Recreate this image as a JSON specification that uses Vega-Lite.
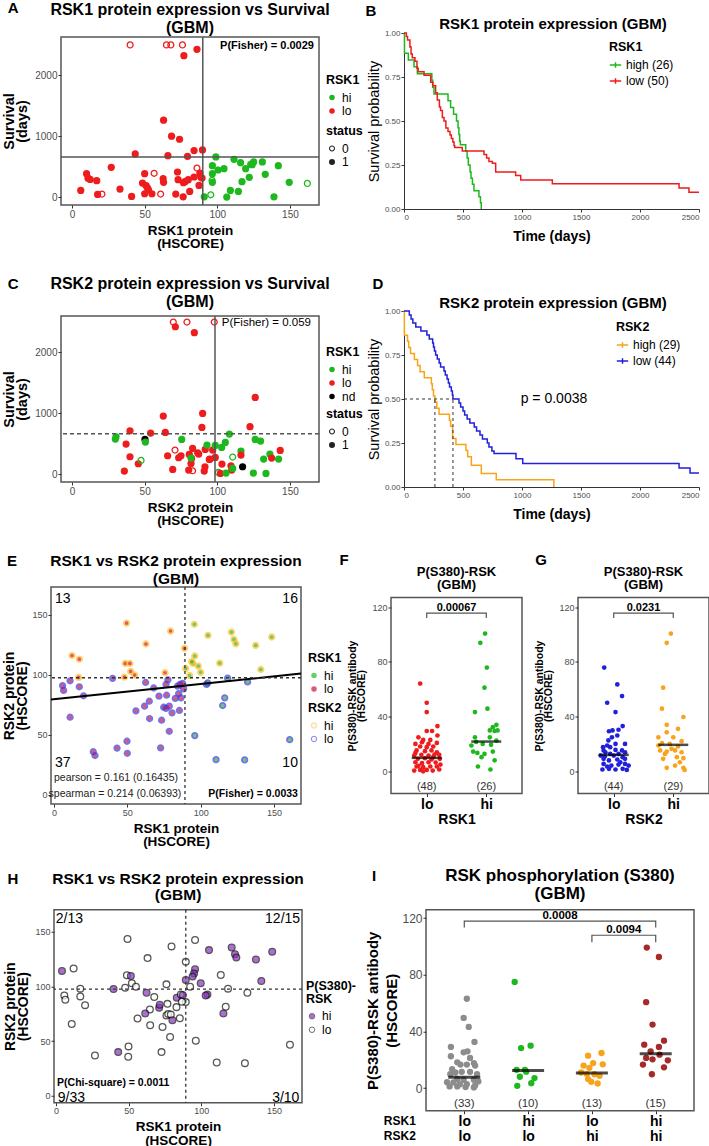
{
"$schema": "https://vega.github.io/schema/vega-lite/v6.json",
"padding": {"left": 0, "top": 0, "right": 0, "bottom": 0},
"background": "white",
"config": {
 "font": "Liberation Sans",
 "view": {"stroke": null},
 "axis": {"grid": false, "domain": false, "ticks": true, "tickSize": 3, "tickColor": "#333", "labelColor": "#4d4d4d", "labelFontSize": 10, "labelPadding": 1, "titleFontWeight": "bold", "titleColor": "#000", "titlePadding": 4, "titleFontSize": 13.5, "titleLineHeight": 13.5},
 "legend": {"titleFontSize": 12.5, "labelFontSize": 12, "titleColor": "#000", "labelColor": "#000", "titleFontWeight": "bold", "orient": "none", "rowPadding": 1.5}
},
"resolve": {"scale": {"x": "independent", "y": "independent", "color": "independent", "fill": "independent", "stroke": "independent", "shape": "independent"}, "legend": {"color": "independent", "fill": "independent", "stroke": "independent", "shape": "independent"}, "axis": {"x": "independent", "y": "independent"}},
"bounds": "full",
"spacing": 16.75,
"vconcat": [
{
"resolve": {"scale": {"x": "independent", "y": "independent", "color": "independent", "fill": "independent", "stroke": "independent", "shape": "independent"}, "legend": {"color": "independent", "fill": "independent", "stroke": "independent", "shape": "independent"}, "axis": {"x": "independent", "y": "independent"}},
"bounds": "full",
"spacing": 24,
"vconcat": [
{
"resolve": {"scale": {"x": "independent", "y": "independent", "color": "independent", "fill": "independent", "stroke": "independent", "shape": "independent"}, "legend": {"color": "independent", "fill": "independent", "stroke": "independent", "shape": "independent"}, "axis": {"x": "independent", "y": "independent"}},
"bounds": "flush", "spacing": 0, "center": true,
"hconcat": [
{"width": 60, "height": 1, "data": {"values": []}, "mark": "point"},
{
 "width": 258, "height": 168,
 "view": {"stroke": "#555", "strokeWidth": 1.5},
 "layer": [
  {"data": {"values": [
   {"x":40,"y":2500,"g":"lo","s":"0"},{"x":65,"y":2500,"g":"lo","s":"0"},{"x":68,"y":2500,"g":"lo","s":"0"},{"x":76,"y":2500,"g":"lo","s":"0"},
   {"x":86,"y":2428,"g":"lo","s":"1"},{"x":77,"y":2324,"g":"lo","s":"1"},{"x":63,"y":1264,"g":"lo","s":"1"},{"x":68.5,"y":1000,"g":"lo","s":"1"},{"x":74,"y":950,"g":"lo","s":"1"},{"x":84,"y":764,"g":"lo","s":"1"},{"x":89.8,"y":775,"g":"lo","s":"1"},{"x":43.5,"y":709,"g":"lo","s":"1"},{"x":66,"y":681,"g":"lo","s":"1"},{"x":79.5,"y":670,"g":"lo","s":"1"},
   {"x":27,"y":489,"g":"lo","s":"1"},{"x":10,"y":385,"g":"lo","s":"1"},{"x":11,"y":310,"g":"lo","s":"1"},{"x":12.5,"y":290,"g":"lo","s":"1"},{"x":17,"y":269,"g":"lo","s":"1"},{"x":6,"y":110,"g":"lo","s":"1"},{"x":17.6,"y":44,"g":"lo","s":"1"},{"x":20.6,"y":49,"g":"lo","s":"0"},{"x":33,"y":132,"g":"lo","s":"1"},{"x":41,"y":11,"g":"lo","s":"1"},
   {"x":50,"y":385,"g":"lo","s":"1"},{"x":48.5,"y":230,"g":"lo","s":"1"},{"x":51,"y":187,"g":"lo","s":"1"},{"x":52,"y":148,"g":"lo","s":"1"},{"x":52.6,"y":120,"g":"lo","s":"1"},{"x":50,"y":55,"g":"lo","s":"1"},{"x":55,"y":55,"g":"lo","s":"1"},{"x":56.5,"y":390,"g":"lo","s":"0"},{"x":62.7,"y":302,"g":"lo","s":"1"},{"x":63,"y":242,"g":"lo","s":"1"},{"x":61,"y":49,"g":"lo","s":"0"},
   {"x":72.6,"y":412,"g":"lo","s":"1"},{"x":73,"y":286,"g":"lo","s":"1"},{"x":71.4,"y":49,"g":"lo","s":"1"},{"x":76.7,"y":236,"g":"lo","s":"1"},{"x":78,"y":258,"g":"lo","s":"1"},{"x":80,"y":286,"g":"lo","s":"1"},{"x":81,"y":93,"g":"lo","s":"1"},{"x":76.5,"y":5,"g":"lo","s":"1"},{"x":84,"y":330,"g":"lo","s":"1"},{"x":86,"y":478,"g":"lo","s":"0"},{"x":88,"y":396,"g":"lo","s":"1"},{"x":88.6,"y":330,"g":"lo","s":"1"},{"x":87.4,"y":192,"g":"lo","s":"1"},{"x":89.5,"y":313,"g":"lo","s":"1"},
   {"x":99,"y":659,"g":"hi","s":"1"},{"x":111.5,"y":621,"g":"hi","s":"1"},{"x":116,"y":566,"g":"hi","s":"1"},{"x":125,"y":577,"g":"hi","s":"1"},{"x":131,"y":577,"g":"hi","s":"1"},{"x":123,"y":538,"g":"hi","s":"1"},{"x":124,"y":533,"g":"hi","s":"1"},{"x":96.6,"y":516,"g":"hi","s":"1"},{"x":100.5,"y":445,"g":"hi","s":"1"},{"x":104.6,"y":467,"g":"hi","s":"1"},{"x":119.5,"y":467,"g":"hi","s":"1"},{"x":96.6,"y":385,"g":"hi","s":"1"},{"x":96.4,"y":275,"g":"hi","s":"0"},{"x":96.6,"y":242,"g":"hi","s":"1"},{"x":122,"y":324,"g":"hi","s":"1"},{"x":133,"y":374,"g":"hi","s":"1"},{"x":142,"y":516,"g":"hi","s":"1"},{"x":117,"y":253,"g":"hi","s":"1"},{"x":91,"y":5,"g":"hi","s":"1"},{"x":95.5,"y":38,"g":"hi","s":"0"},{"x":109,"y":110,"g":"hi","s":"1"},{"x":114.5,"y":93,"g":"hi","s":"1"},{"x":106.5,"y":0,"g":"hi","s":"1"},{"x":139,"y":5,"g":"hi","s":"1"},{"x":149.5,"y":242,"g":"hi","s":"1"},{"x":162,"y":225,"g":"hi","s":"0"}
  ]},
   "mark": {"type": "point", "filled": true, "size": 52, "opacity": 1},
   "encoding": {
    "x": {"field": "x", "type": "quantitative", "scale": {"domain": [-7.6, 170], "nice": false, "zero": false}, "axis": {"values": [0, 50, 100, 150], "title": ["RSK1 protein", "(HSCORE)"]}},
    "y": {"field": "y", "type": "quantitative", "scale": {"domain": [-130, 2630], "nice": false, "zero": false}, "axis": {"values": [0, 500, 1000, 1500, 2000, 2500], "format": "d", "title": ["Survival", "(days)"], "titleFontSize": 14.5, "titleLineHeight": 13.5, "titlePadding": 5}},
    "fill": {"field": "g", "type": "nominal", "scale": {"domain": ["hi", "lo"], "range": ["#1DB81D", "#EE1C1C"]}, "legend": {"title": "RSK1", "legendX": 265, "legendY": 37, "symbolSize": 30, "symbolStrokeWidth": 0}},
    "shape": {"field": "s", "type": "nominal", "scale": {"domain": ["0", "1"], "range": ["M-1,0A1,1,0,1,0,1,0A1,1,0,1,0,-1,0ZM-0.64,0A0.64,0.64,0,1,1,0.64,0A0.64,0.64,0,1,1,-0.64,0Z", "circle"]}, "legend": {"title": "status", "legendX": 265, "legendY": 88, "symbolSize": 36, "symbolFillColor": "#222", "symbolStrokeWidth": 0}}
   }},
  {"data": {"values": [{}]}, "mark": {"type": "rule", "color": "#555", "strokeWidth": 1.5}, "encoding": {"x": {"datum": 90, "type": "quantitative"}}},
  {"data": {"values": [{}]}, "mark": {"type": "rule", "color": "#555", "strokeWidth": 1.5}, "encoding": {"y": {"datum": 659, "type": "quantitative"}}},
  {"data": {"values": [{}]}, "mark": {"type": "text", "text": "P(Fisher) =  0.0029", "fontWeight": "bold", "fontSize": 11, "align": "right", "baseline": "middle"}, "encoding": {"x": {"datum": 166.5, "type": "quantitative"}, "y": {"datum": 2487, "type": "quantitative"}}},
  {"data": {"values": [{"y":3074,"t":"RSK1 protein expression vs Survival"},{"y":2778,"t":"(GBM)"}]}, "mark": {"type": "text", "fontWeight": "bold", "fontSize": 16, "align": "center", "baseline": "middle"}, "encoding": {"x": {"datum": 81.2, "type": "quantitative"}, "y": {"field": "y", "type": "quantitative"}, "text": {"field": "t"}}},
  {"data": {"values": [{}]}, "mark": {"type": "text", "text": "A", "fontWeight": "bold", "fontSize": 15, "align": "center", "baseline": "middle"}, "encoding": {"x": {"datum": -40.6, "type": "quantitative"}, "y": {"datum": 3107, "type": "quantitative"}}}
 ]
},
{"width": 85, "height": 1, "data": {"values": []}, "mark": "point"},
{
 "width": 295, "height": 176,
 "layer": [
  {"data": {"values": [
   {"t":0,"v":1,"g":"high (26)"},{"t":4,"v":0.885,"g":"high (26)"},{"t":37,"v":0.846,"g":"high (26)"},{"t":85,"v":0.808,"g":"high (26)"},{"t":113,"v":0.769,"g":"high (26)"},{"t":236,"v":0.731,"g":"high (26)"},{"t":243,"v":0.692,"g":"high (26)"},{"t":254,"v":0.654,"g":"high (26)"},{"t":373,"v":0.615,"g":"high (26)"},{"t":395,"v":0.577,"g":"high (26)"},{"t":420,"v":0.538,"g":"high (26)"},{"t":445,"v":0.5,"g":"high (26)"},{"t":458,"v":0.462,"g":"high (26)"},{"t":465,"v":0.423,"g":"high (26)"},{"t":472,"v":0.385,"g":"high (26)"},{"t":478,"v":0.365,"g":"high (26)"},{"t":523,"v":0.33,"g":"high (26)"},{"t":535,"v":0.29,"g":"high (26)"},{"t":545,"v":0.25,"g":"high (26)"},{"t":560,"v":0.21,"g":"high (26)"},{"t":568,"v":0.175,"g":"high (26)"},{"t":580,"v":0.14,"g":"high (26)"},{"t":593,"v":0.104,"g":"high (26)"},{"t":635,"v":0.07,"g":"high (26)"},{"t":648,"v":0.035,"g":"high (26)"},{"t":655,"v":0,"g":"high (26)"},
   {"t":0,"v":1,"g":"low (50)"},{"t":20,"v":0.98,"g":"low (50)"},{"t":30,"v":0.96,"g":"low (50)"},{"t":50,"v":0.92,"g":"low (50)"},{"t":60,"v":0.88,"g":"low (50)"},{"t":70,"v":0.86,"g":"low (50)"},{"t":93,"v":0.84,"g":"low (50)"},{"t":110,"v":0.8,"g":"low (50)"},{"t":120,"v":0.78,"g":"low (50)"},{"t":170,"v":0.76,"g":"low (50)"},{"t":226,"v":0.72,"g":"low (50)"},{"t":245,"v":0.7,"g":"low (50)"},{"t":268,"v":0.66,"g":"low (50)"},{"t":282,"v":0.62,"g":"low (50)"},{"t":300,"v":0.58,"g":"low (50)"},{"t":310,"v":0.56,"g":"low (50)"},{"t":325,"v":0.52,"g":"low (50)"},{"t":339,"v":0.5,"g":"low (50)"},{"t":355,"v":0.46,"g":"low (50)"},{"t":373,"v":0.44,"g":"low (50)"},{"t":390,"v":0.42,"g":"low (50)"},{"t":401,"v":0.4,"g":"low (50)"},{"t":414,"v":0.38,"g":"low (50)"},{"t":424,"v":0.36,"g":"low (50)"},{"t":430,"v":0.35,"g":"low (50)"},{"t":494,"v":0.33,"g":"low (50)"},{"t":678,"v":0.31,"g":"low (50)"},{"t":700,"v":0.29,"g":"low (50)"},{"t":720,"v":0.27,"g":"low (50)"},{"t":749,"v":0.26,"g":"low (50)"},{"t":777,"v":0.21,"g":"low (50)"},{"t":946,"v":0.19,"g":"low (50)"},{"t":989,"v":0.165,"g":"low (50)"},{"t":1257,"v":0.143,"g":"low (50)"},{"t":2331,"v":0.12,"g":"low (50)"},{"t":2415,"v":0.095,"g":"low (50)"},{"t":2500,"v":0.095,"g":"low (50)"}
  ]},
   "mark": {"type": "line", "interpolate": "step-after", "strokeWidth": 1.5},
   "encoding": {
    "x": {"field": "t", "type": "quantitative", "scale": {"domain": [0, 2500], "nice": false}, "axis": {"values": [0,250,500,750,1000,1250,1500,1750,2000,2250,2500], "format": "d", "labelFontSize": 8, "domain": true, "domainColor": "#333", "title": "Time (days)", "titleFontSize": 14, "titlePadding": 8}},
    "y": {"field": "v", "type": "quantitative", "scale": {"domain": [0, 1], "nice": false}, "axis": {"values": [0, 0.25, 0.5, 0.75, 1], "format": ".2f", "labelFontSize": 8, "domain": true, "domainColor": "#333", "title": "Survival probability", "titleFontWeight": "normal", "titleFontSize": 14.5, "titlePadding": 3}},
    "color": {"field": "g", "type": "nominal", "scale": {"domain": ["high (26)", "low (50)"], "range": ["#1DB81D", "#EE1C1C"]}, "legend": {"title": "RSK1", "legendX": 205, "legendY": 8, "symbolType": "M-1,0H1M0,-0.5V0.5", "symbolSize": 130, "symbolStrokeWidth": 1.5, "labelFontSize": 12, "rowPadding": 3}}
   }},
  {"data": {"values": [{}]}, "mark": {"type": "text", "text": "RSK1 protein expression (GBM)", "fontWeight": "bold", "fontSize": 15, "align": "center", "baseline": "middle"}, "encoding": {"x": {"datum": 1263, "type": "quantitative"}, "y": {"datum": 1.051, "type": "quantitative"}}},
  {"data": {"values": [{}]}, "mark": {"type": "text", "text": "B", "fontWeight": "bold", "fontSize": 15, "align": "center", "baseline": "middle"}, "encoding": {"x": {"datum": -280, "type": "quantitative"}, "y": {"datum": 1.125, "type": "quantitative"}}}
 ]
}
]
},
{
"resolve": {"scale": {"x": "independent", "y": "independent", "color": "independent", "fill": "independent", "stroke": "independent", "shape": "independent"}, "legend": {"color": "independent", "fill": "independent", "stroke": "independent", "shape": "independent"}, "axis": {"x": "independent", "y": "independent"}},
"bounds": "flush", "spacing": 0, "center": true,
"hconcat": [
{"width": 60, "height": 1, "data": {"values": []}, "mark": "point"},
{
 "width": 258, "height": 166,
 "view": {"stroke": "#555", "strokeWidth": 1.5},
 "layer": [
  {"data": {"values": [
   {"x":69.7,"y":2500,"g":"lo","s":"0"},{"x":79.1,"y":2500,"g":"lo","s":"0"},{"x":97.9,"y":2500,"g":"lo","s":"0"},
   {"x":71.1,"y":2423,"g":"lo","s":"1"},{"x":84.2,"y":2325,"g":"lo","s":"1"},{"x":126.1,"y":1261,"g":"lo","s":"1"},{"x":62.8,"y":954,"g":"lo","s":"1"},{"x":89.9,"y":998,"g":"lo","s":"1"},{"x":89.4,"y":768,"g":"lo","s":"1"},{"x":122.5,"y":779,"g":"lo","s":"1"},{"x":39.9,"y":713,"g":"lo","s":"1"},{"x":54.1,"y":674,"g":"lo","s":"1"},{"x":64.2,"y":685,"g":"lo","s":"1"},
   {"x":30.3,"y":614,"g":"hi","s":"1"},{"x":29.8,"y":576,"g":"hi","s":"1"},{"x":50.2,"y":570,"g":"nd","s":"1"},{"x":50.5,"y":526,"g":"hi","s":"1"},{"x":75.5,"y":570,"g":"hi","s":"1"},{"x":108.3,"y":658,"g":"hi","s":"1"},{"x":126.1,"y":570,"g":"hi","s":"1"},{"x":129.8,"y":543,"g":"hi","s":"1"},
   {"x":37.2,"y":493,"g":"lo","s":"1"},{"x":83,"y":422,"g":"lo","s":"1"},{"x":86.5,"y":351,"g":"lo","s":"1"},{"x":87.2,"y":329,"g":"lo","s":"1"},{"x":70.9,"y":395,"g":"lo","s":"0"},{"x":65.8,"y":302,"g":"lo","s":"1"},{"x":73.4,"y":269,"g":"lo","s":"1"},{"x":75,"y":302,"g":"lo","s":"1"},{"x":80.7,"y":323,"g":"lo","s":"1"},{"x":82.3,"y":258,"g":"lo","s":"1"},{"x":91.7,"y":406,"g":"lo","s":"1"},
   {"x":92.9,"y":477,"g":"hi","s":"1"},{"x":96.8,"y":395,"g":"lo","s":"1"},{"x":95,"y":247,"g":"lo","s":"1"},{"x":98.6,"y":274,"g":"lo","s":"1"},{"x":98.6,"y":471,"g":"hi","s":"1"},{"x":103,"y":439,"g":"hi","s":"1"},{"x":105.5,"y":521,"g":"hi","s":"1"},{"x":116.3,"y":378,"g":"hi","s":"1"},{"x":116.3,"y":312,"g":"lo","s":"1"},{"x":110.6,"y":280,"g":"hi","s":"0"},
   {"x":103.2,"y":164,"g":"lo","s":"1"},{"x":109.4,"y":137,"g":"lo","s":"1"},{"x":109.9,"y":66,"g":"lo","s":"1"},{"x":110.6,"y":93,"g":"hi","s":"1"},{"x":100.7,"y":27,"g":"hi","s":"0"},{"x":102.1,"y":11,"g":"lo","s":"1"},{"x":106,"y":16,"g":"hi","s":"1"},{"x":117.4,"y":121,"g":"nd","s":"1"},{"x":124.8,"y":16,"g":"hi","s":"1"},{"x":133.5,"y":11,"g":"hi","s":"1"},{"x":131.9,"y":247,"g":"hi","s":"1"},{"x":136.2,"y":329,"g":"hi","s":"1"},{"x":137.4,"y":263,"g":"lo","s":"1"},{"x":143.3,"y":389,"g":"lo","s":"1"},{"x":142.2,"y":247,"g":"hi","s":"1"},
   {"x":39.9,"y":285,"g":"lo","s":"1"},{"x":45.6,"y":170,"g":"lo","s":"1"},{"x":47.5,"y":225,"g":"hi","s":"0"},{"x":36,"y":49,"g":"lo","s":"1"},{"x":69.3,"y":77,"g":"lo","s":"1"},{"x":80.3,"y":66,"g":"lo","s":"1"},{"x":83,"y":55,"g":"lo","s":"0"},{"x":81.9,"y":175,"g":"lo","s":"1"},{"x":81.9,"y":263,"g":"hi","s":"1"},{"x":91.5,"y":121,"g":"lo","s":"1"},{"x":91,"y":49,"g":"lo","s":"1"},{"x":94.5,"y":241,"g":"lo","s":"1"}
  ]},
   "mark": {"type": "point", "filled": true, "size": 52, "opacity": 1},
   "encoding": {
    "x": {"field": "x", "type": "quantitative", "scale": {"domain": [-7.6, 170], "nice": false, "zero": false}, "axis": {"values": [0, 50, 100, 150], "title": ["RSK2 protein", "(HSCORE)"]}},
    "y": {"field": "y", "type": "quantitative", "scale": {"domain": [-130, 2600], "nice": false, "zero": false}, "axis": {"values": [0, 500, 1000, 1500, 2000, 2500], "format": "d", "title": ["Survival", "(days)"], "titleFontSize": 14.5, "titleLineHeight": 13.5, "titlePadding": 5}},
    "fill": {"field": "g", "type": "nominal", "scale": {"domain": ["hi", "lo", "nd"], "range": ["#1DB81D", "#EE1C1C", "#000000"]}, "legend": {"title": "RSK1", "legendX": 265, "legendY": 30, "symbolSize": 30, "symbolStrokeWidth": 0}},
    "shape": {"field": "s", "type": "nominal", "scale": {"domain": ["0", "1"], "range": ["M-1,0A1,1,0,1,0,1,0A1,1,0,1,0,-1,0ZM-0.64,0A0.64,0.64,0,1,1,0.64,0A0.64,0.64,0,1,1,-0.64,0Z", "circle"]}, "legend": {"title": "status", "legendX": 265, "legendY": 92, "symbolSize": 36, "symbolFillColor": "#222", "symbolStrokeWidth": 0}}
   }},
  {"data": {"values": [{}]}, "mark": {"type": "rule", "color": "#555", "strokeWidth": 1.5}, "encoding": {"x": {"datum": 98.4, "type": "quantitative"}}},
  {"data": {"values": [{}]}, "mark": {"type": "rule", "color": "#555", "strokeWidth": 1.5, "strokeDash": [4, 3]}, "encoding": {"y": {"datum": 663, "type": "quantitative"}}},
  {"data": {"values": [{}]}, "mark": {"type": "text", "text": "P(Fisher) =  0.059", "fontSize": 11.5, "align": "right", "baseline": "middle"}, "encoding": {"x": {"datum": 164.5, "type": "quantitative"}, "y": {"datum": 2490, "type": "quantitative"}}},
  {"data": {"values": [{"y":3127,"t":"RSK2 protein expression vs Survival"},{"y":2831,"t":"(GBM)"}]}, "mark": {"type": "text", "fontWeight": "bold", "fontSize": 16, "align": "center", "baseline": "middle"}, "encoding": {"x": {"datum": 81.2, "type": "quantitative"}, "y": {"field": "y", "type": "quantitative"}, "text": {"field": "t"}}},
  {"data": {"values": [{}]}, "mark": {"type": "text", "text": "C", "fontWeight": "bold", "fontSize": 15, "align": "center", "baseline": "middle"}, "encoding": {"x": {"datum": -40.6, "type": "quantitative"}, "y": {"datum": 3127, "type": "quantitative"}}}
 ]
},
{"width": 85, "height": 1, "data": {"values": []}, "mark": "point"},
{
 "width": 295, "height": 176,
 "layer": [
  {"data": {"values": [
   {"t":0,"v":1,"g":"high (29)"},{"t":3,"v":0.862,"g":"high (29)"},{"t":30,"v":0.828,"g":"high (29)"},{"t":40,"v":0.793,"g":"high (29)"},{"t":55,"v":0.759,"g":"high (29)"},{"t":88,"v":0.724,"g":"high (29)"},{"t":115,"v":0.69,"g":"high (29)"},{"t":136,"v":0.655,"g":"high (29)"},{"t":172,"v":0.621,"g":"high (29)"},{"t":232,"v":0.586,"g":"high (29)"},{"t":240,"v":0.552,"g":"high (29)"},{"t":250,"v":0.517,"g":"high (29)"},{"t":262,"v":0.483,"g":"high (29)"},{"t":278,"v":0.448,"g":"high (29)"},{"t":297,"v":0.414,"g":"high (29)"},{"t":385,"v":0.379,"g":"high (29)"},{"t":395,"v":0.345,"g":"high (29)"},{"t":412,"v":0.276,"g":"high (29)"},{"t":440,"v":0.241,"g":"high (29)"},{"t":525,"v":0.207,"g":"high (29)"},{"t":540,"v":0.172,"g":"high (29)"},{"t":571,"v":0.123,"g":"high (29)"},{"t":655,"v":0.076,"g":"high (29)"},{"t":782,"v":0.041,"g":"high (29)"},{"t":1270,"v":0,"g":"high (29)"},
   {"t":0,"v":1,"g":"low (44)"},{"t":45,"v":0.977,"g":"low (44)"},{"t":60,"v":0.955,"g":"low (44)"},{"t":75,"v":0.932,"g":"low (44)"},{"t":100,"v":0.909,"g":"low (44)"},{"t":143,"v":0.886,"g":"low (44)"},{"t":194,"v":0.864,"g":"low (44)"},{"t":214,"v":0.841,"g":"low (44)"},{"t":243,"v":0.818,"g":"low (44)"},{"t":250,"v":0.795,"g":"low (44)"},{"t":258,"v":0.773,"g":"low (44)"},{"t":268,"v":0.75,"g":"low (44)"},{"t":282,"v":0.727,"g":"low (44)"},{"t":298,"v":0.705,"g":"low (44)"},{"t":310,"v":0.682,"g":"low (44)"},{"t":339,"v":0.659,"g":"low (44)"},{"t":350,"v":0.636,"g":"low (44)"},{"t":365,"v":0.614,"g":"low (44)"},{"t":376,"v":0.591,"g":"low (44)"},{"t":386,"v":0.568,"g":"low (44)"},{"t":401,"v":0.545,"g":"low (44)"},{"t":410,"v":0.523,"g":"low (44)"},{"t":415,"v":0.5,"g":"low (44)"},{"t":466,"v":0.477,"g":"low (44)"},{"t":480,"v":0.455,"g":"low (44)"},{"t":500,"v":0.432,"g":"low (44)"},{"t":514,"v":0.409,"g":"low (44)"},{"t":535,"v":0.386,"g":"low (44)"},{"t":558,"v":0.364,"g":"low (44)"},{"t":595,"v":0.341,"g":"low (44)"},{"t":615,"v":0.318,"g":"low (44)"},{"t":644,"v":0.295,"g":"low (44)"},{"t":665,"v":0.273,"g":"low (44)"},{"t":706,"v":0.25,"g":"low (44)"},{"t":720,"v":0.227,"g":"low (44)"},{"t":745,"v":0.205,"g":"low (44)"},{"t":763,"v":0.19,"g":"low (44)"},{"t":949,"v":0.161,"g":"low (44)"},{"t":1006,"v":0.133,"g":"low (44)"},{"t":2331,"v":0.108,"g":"low (44)"},{"t":2424,"v":0.08,"g":"low (44)"},{"t":2500,"v":0.08,"g":"low (44)"}
  ]},
   "mark": {"type": "line", "interpolate": "step-after", "strokeWidth": 1.5},
   "encoding": {
    "x": {"field": "t", "type": "quantitative", "scale": {"domain": [0, 2500], "nice": false}, "axis": {"values": [0,250,500,750,1000,1250,1500,1750,2000,2250,2500], "format": "d", "labelFontSize": 8, "domain": true, "domainColor": "#333", "title": "Time (days)", "titleFontSize": 14, "titlePadding": 8}},
    "y": {"field": "v", "type": "quantitative", "scale": {"domain": [0, 1], "nice": false}, "axis": {"values": [0, 0.25, 0.5, 0.75, 1], "format": ".2f", "labelFontSize": 8, "domain": true, "domainColor": "#333", "title": "Survival probability", "titleFontWeight": "normal", "titleFontSize": 14.5, "titlePadding": 3}},
    "color": {"field": "g", "type": "nominal", "scale": {"domain": ["high (29)", "low (44)"], "range": ["#F7A31C", "#2121DB"]}, "legend": {"title": "RSK2", "legendX": 212, "legendY": 10, "symbolType": "M-1,0H1M0,-0.5V0.5", "symbolSize": 130, "symbolStrokeWidth": 1.5, "labelFontSize": 12, "rowPadding": 3}}
   }},
  {"data": {"values": [{"x":0,"x2":415,"y":0.5,"y2":0.5},{"x":262,"x2":262,"y":0,"y2":0.5},{"x":415,"x2":415,"y":0,"y2":0.5}]},
   "mark": {"type": "rule", "color": "#333", "strokeWidth": 1, "strokeDash": [3, 3]},
   "encoding": {"x": {"field": "x", "type": "quantitative"}, "x2": {"field": "x2"}, "y": {"field": "y", "type": "quantitative"}, "y2": {"field": "y2"}}},
  {"data": {"values": [{}]}, "mark": {"type": "text", "text": "p = 0.0038", "fontSize": 14, "align": "center", "baseline": "middle"}, "encoding": {"x": {"datum": 1271, "type": "quantitative"}, "y": {"datum": 0.5, "type": "quantitative"}}},
  {"data": {"values": [{}]}, "mark": {"type": "text", "text": "RSK2 protein expression (GBM)", "fontWeight": "bold", "fontSize": 15, "align": "center", "baseline": "middle"}, "encoding": {"x": {"datum": 1263, "type": "quantitative"}, "y": {"datum": 1.045, "type": "quantitative"}}},
  {"data": {"values": [{}]}, "mark": {"type": "text", "text": "D", "fontWeight": "bold", "fontSize": 15, "align": "center", "baseline": "middle"}, "encoding": {"x": {"datum": -220, "type": "quantitative"}, "y": {"datum": 1.153, "type": "quantitative"}}}
 ]
}
]
},
{
"resolve": {"scale": {"x": "independent", "y": "independent", "color": "independent", "fill": "independent", "stroke": "independent", "shape": "independent"}, "legend": {"color": "independent", "fill": "independent", "stroke": "independent", "shape": "independent"}, "axis": {"x": "independent", "y": "independent"}},
"bounds": "flush", "spacing": 0, "center": true,
"hconcat": [
{"width": 50, "height": 1, "data": {"values": []}, "mark": "point"},
{
 "width": 250, "height": 217,
 "view": {"stroke": "#555", "strokeWidth": 1.5},
 "layer": [
  {"data": {"values": [
   {"x":49.5,"y":143,"a":"lo","b":"HI"},{"x":79.5,"y":136.4,"a":"lo","b":"HI"},{"x":62.7,"y":125.6,"a":"lo","b":"HI"},{"x":12.3,"y":116,"a":"lo","b":"HI"},{"x":17.3,"y":113,"a":"lo","b":"HI"},{"x":48.6,"y":109.4,"a":"lo","b":"HI"},{"x":51.8,"y":109.4,"a":"lo","b":"HI"},{"x":52.3,"y":102.8,"a":"lo","b":"HI"},{"x":55,"y":99.7,"a":"lo","b":"HI"},{"x":48,"y":98,"a":"lo","b":"HI"},{"x":16.8,"y":97.8,"a":"lo","b":"HI"},{"x":75.7,"y":101.7,"a":"lo","b":"HI"},{"x":89,"y":122,"a":"lo","b":"HI"},
   {"x":95.7,"y":142,"a":"hi","b":"HI"},{"x":105,"y":132.8,"a":"hi","b":"HI"},{"x":121,"y":135.5,"a":"hi","b":"HI"},{"x":122.7,"y":129.4,"a":"hi","b":"HI"},{"x":124,"y":125.8,"a":"hi","b":"HI"},{"x":137.5,"y":124.4,"a":"hi","b":"HI"},{"x":148.4,"y":131.4,"a":"hi","b":"HI"},{"x":96,"y":115.6,"a":"hi","b":"HI"},{"x":94.8,"y":109.4,"a":"hi","b":"HI"},{"x":98.4,"y":107.2,"a":"hi","b":"HI"},{"x":100,"y":102,"a":"hi","b":"HI"},{"x":113,"y":109.7,"a":"hi","b":"HI"},{"x":89.8,"y":105.3,"a":"hi","b":"HI"},{"x":92.5,"y":99.4,"a":"hi","b":"HI"},{"x":141,"y":104.4,"a":"hi","b":"HI"},{"x":93.9,"y":111,"a":"hi","b":"HI"},
   {"x":104,"y":92,"a":"hi","b":"LO"},{"x":118.4,"y":97.2,"a":"hi","b":"LO"},{"x":132,"y":94,"a":"hi","b":"LO"},{"x":116.4,"y":80.8,"a":"hi","b":"LO"},{"x":115,"y":74.4,"a":"hi","b":"LO"},{"x":96,"y":49.4,"a":"hi","b":"LO"},{"x":160.7,"y":46,"a":"hi","b":"LO"},{"x":110.5,"y":29.4,"a":"hi","b":"LO"},{"x":130,"y":29.2,"a":"hi","b":"LO"},{"x":104.8,"y":93.3,"a":"hi","b":"LO"},
   {"x":5.9,"y":91,"a":"lo","b":"LO"},{"x":6.6,"y":87,"a":"lo","b":"LO"},{"x":11,"y":95,"a":"lo","b":"LO"},{"x":17.3,"y":90,"a":"lo","b":"LO"},{"x":20.2,"y":82.5,"a":"lo","b":"LO"},{"x":11,"y":64.7,"a":"lo","b":"LO"},{"x":40,"y":97,"a":"lo","b":"LO"},{"x":62.5,"y":93.6,"a":"lo","b":"LO"},{"x":68,"y":89,"a":"lo","b":"LO"},{"x":77.7,"y":95.8,"a":"lo","b":"LO"},{"x":71.6,"y":82.2,"a":"lo","b":"LO"},{"x":76.8,"y":83,"a":"lo","b":"LO"},{"x":65,"y":78,"a":"lo","b":"LO"},{"x":61.8,"y":73.9,"a":"lo","b":"LO"},{"x":55.9,"y":70,"a":"lo","b":"LO"},{"x":82.7,"y":80.3,"a":"lo","b":"LO"},{"x":85,"y":84.4,"a":"lo","b":"LO"},{"x":85.9,"y":92,"a":"lo","b":"LO"},{"x":87.7,"y":92.8,"a":"lo","b":"LO"},{"x":88.4,"y":88.3,"a":"lo","b":"LO"},{"x":86.6,"y":80.8,"a":"lo","b":"LO"},{"x":74.8,"y":73,"a":"lo","b":"LO"},{"x":76.4,"y":72,"a":"lo","b":"LO"},{"x":78.6,"y":73.9,"a":"lo","b":"LO"},{"x":80.5,"y":68.3,"a":"lo","b":"LO"},{"x":85.5,"y":70.3,"a":"lo","b":"LO"},{"x":65.2,"y":63.6,"a":"lo","b":"LO"},{"x":73.4,"y":62.2,"a":"lo","b":"LO"},{"x":78.6,"y":53,"a":"lo","b":"LO"},{"x":49.8,"y":44.7,"a":"lo","b":"LO"},{"x":50,"y":34.7,"a":"lo","b":"LO"},{"x":43,"y":39,"a":"lo","b":"LO"},{"x":26.8,"y":36,"a":"lo","b":"LO"},{"x":28,"y":32.8,"a":"lo","b":"LO"},{"x":72.7,"y":39.2,"a":"lo","b":"LO"},{"x":84.3,"y":90.5,"a":"lo","b":"LO"},{"x":76.4,"y":92,"a":"lo","b":"LO"}
  ]},
   "mark": {"type": "point", "filled": true, "size": 30, "strokeWidth": 1.8},
   "encoding": {
    "x": {"field": "x", "type": "quantitative", "scale": {"domain": [-2, 168.4], "nice": false, "zero": false}, "axis": {"values": [0, 50, 100, 150], "labelFontSize": 9, "title": ["RSK1 protein", "(HSCORE)"]}},
    "y": {"field": "y", "type": "quantitative", "scale": {"domain": [-7.5, 173], "nice": false, "zero": false}, "axis": {"values": [0, 50, 100, 150], "labelFontSize": 9, "title": ["RSK2 protein", "(HSCORE)"], "titleFontSize": 14, "titleLineHeight": 13, "titlePadding": 2}},
    "fill": {"field": "a", "type": "nominal", "scale": {"domain": ["hi", "lo"], "range": ["#2DB52D", "#D0103A"]}, "legend": {"title": "RSK1", "legendX": 257, "legendY": 65, "symbolSize": 30, "symbolStrokeWidth": 0}},
    "stroke": {"field": "b", "type": "nominal", "scale": {"domain": ["HI", "LO"], "range": ["#FFC125", "#3A3AE0"]}, "legend": {"title": "RSK2", "labelExpr": "lower(datum.label)", "legendX": 257, "legendY": 115, "symbolSize": 30, "symbolStrokeWidth": 1, "symbolFillColor": "#f2f2f2", "symbolOpacity": 0.6}}
   }},
  {"data": {"values": [{"x":-2,"y":79.4},{"x":168.4,"y":101}]}, "mark": {"type": "line", "color": "#000", "strokeWidth": 2}, "encoding": {"x": {"field": "x", "type": "quantitative"}, "y": {"field": "y", "type": "quantitative"}}},
  {"data": {"values": [{}]}, "mark": {"type": "rule", "color": "#333", "strokeWidth": 1.3, "strokeDash": [3, 3]}, "encoding": {"x": {"datum": 89.3, "type": "quantitative"}}},
  {"data": {"values": [{}]}, "mark": {"type": "rule", "color": "#333", "strokeWidth": 1.3, "strokeDash": [3, 3]}, "encoding": {"y": {"datum": 97.5, "type": "quantitative"}}},
  {"data": {"values": [{"x":0.7,"y":163.3,"t":"13"},{"x":0.7,"y":26.7,"t":"37"}]}, "mark": {"type": "text", "fontSize": 14, "align": "left", "baseline": "middle"}, "encoding": {"x": {"field": "x", "type": "quantitative"}, "y": {"field": "y", "type": "quantitative"}, "text": {"field": "t"}}},
  {"data": {"values": [{"x":166.3,"y":163.3,"t":"16"},{"x":166.3,"y":26.7,"t":"10"}]}, "mark": {"type": "text", "fontSize": 14, "align": "right", "baseline": "middle"}, "encoding": {"x": {"field": "x", "type": "quantitative"}, "y": {"field": "y", "type": "quantitative"}, "text": {"field": "t"}}},
  {"data": {"values": [{"x":42.3,"y":14.2,"t":"pearson = 0.161 (0.16435)"},{"x":41.6,"y":0.8,"t":"spearman = 0.214 (0.06393)"}]}, "mark": {"type": "text", "fontSize": 10.5, "align": "center", "baseline": "middle", "color": "#222"}, "encoding": {"x": {"field": "x", "type": "quantitative"}, "y": {"field": "y", "type": "quantitative"}, "text": {"field": "t"}}},
  {"data": {"values": [{}]}, "mark": {"type": "text", "text": "P(Fisher) =  0.0033", "fontWeight": "bold", "fontSize": 10.5, "align": "right", "baseline": "middle"}, "encoding": {"x": {"datum": 166.3, "type": "quantitative"}, "y": {"datum": 0.8, "type": "quantitative"}}},
  {"data": {"values": [{"y":194.6,"t":"RSK1 vs RSK2 protein expression"},{"y":179.7,"t":"(GBM)"}]}, "mark": {"type": "text", "fontWeight": "bold", "fontSize": 15.5, "align": "center", "baseline": "middle"}, "encoding": {"x": {"datum": 83.2, "type": "quantitative"}, "y": {"field": "y", "type": "quantitative"}, "text": {"field": "t"}}},
  {"data": {"values": [{}]}, "mark": {"type": "text", "text": "E", "fontWeight": "bold", "fontSize": 15, "align": "center", "baseline": "middle"}, "encoding": {"x": {"datum": -28.6, "type": "quantitative"}, "y": {"datum": 194.6, "type": "quantitative"}}}
 ]
},
{"width": 90, "height": 1, "data": {"values": []}, "mark": "point"},
{
 "width": 131, "height": 196,
 "view": {"stroke": "#555", "strokeWidth": 1.5},
 "layer": [
  {"data": {"values": [
   {"x":1.0,"y":50.2,"g":"lo"},{"x":1.0,"y":43.4,"g":"lo"},{"x":1.18,"y":33.2,"g":"lo"},{"x":1.0,"y":29.6,"g":"lo"},{"x":1.09,"y":29.6,"g":"lo"},{"x":1.18,"y":26.3,"g":"lo"},{"x":0.86,"y":25,"g":"lo"},{"x":0.94,"y":23.1,"g":"lo"},{"x":1.06,"y":23.1,"g":"lo"},{"x":0.81,"y":20.2,"g":"lo"},{"x":0.89,"y":18.3,"g":"lo"},{"x":1.0,"y":17.8,"g":"lo"},{"x":1.11,"y":18.3,"g":"lo"},{"x":0.83,"y":15.4,"g":"lo"},{"x":0.97,"y":14.9,"g":"lo"},{"x":1.08,"y":15.4,"g":"lo"},{"x":1.17,"y":14.1,"g":"lo"},{"x":0.79,"y":11.7,"g":"lo"},{"x":0.91,"y":12.2,"g":"lo"},{"x":1.03,"y":11.7,"g":"lo"},{"x":1.13,"y":12.4,"g":"lo"},{"x":1.21,"y":12.2,"g":"lo"},{"x":0.85,"y":9.3,"g":"lo"},{"x":0.97,"y":9.8,"g":"lo"},{"x":1.08,"y":8.8,"g":"lo"},{"x":0.81,"y":6.8,"g":"lo"},{"x":0.92,"y":6.1,"g":"lo"},{"x":1.03,"y":6.8,"g":"lo"},{"x":1.15,"y":6.6,"g":"lo"},{"x":1.23,"y":5.1,"g":"lo"},{"x":0.83,"y":3.7,"g":"lo"},{"x":0.94,"y":3.2,"g":"lo"},{"x":1.06,"y":3.7,"g":"lo"},{"x":1.17,"y":3.7,"g":"lo"},{"x":0.79,"y":0.7,"g":"lo"},{"x":0.89,"y":1.2,"g":"lo"},{"x":1.0,"y":1.2,"g":"lo"},{"x":1.1,"y":0.7,"g":"lo"},{"x":1.21,"y":1.5,"g":"lo"},{"x":0.89,"y":64.2,"g":"lo"},{"x":0.86,"y":4.2,"g":"lo"},{"x":1.11,"y":10.5,"g":"lo"},{"x":1.22,"y":9.3,"g":"lo"},{"x":0.92,"y":21.4,"g":"lo"},{"x":1.17,"y":20.9,"g":"lo"},{"x":0.81,"y":13.6,"g":"lo"},{"x":1.03,"y":20.2,"g":"lo"},{"x":0.94,"y":0.2,"g":"lo"},
   {"x":1.98,"y":100.7,"g":"hi"},{"x":1.9,"y":93.9,"g":"hi"},{"x":2.01,"y":75.9,"g":"hi"},{"x":1.97,"y":61.2,"g":"hi"},{"x":2.02,"y":45.9,"g":"hi"},{"x":1.81,"y":43.4,"g":"hi"},{"x":2.17,"y":34.1,"g":"hi"},{"x":2.11,"y":32.4,"g":"hi"},{"x":2.06,"y":30,"g":"hi"},{"x":2.14,"y":29.6,"g":"hi"},{"x":2.19,"y":30,"g":"hi"},{"x":1.81,"y":25,"g":"hi"},{"x":1.83,"y":21.6,"g":"hi"},{"x":1.94,"y":20.2,"g":"hi"},{"x":2.08,"y":19.5,"g":"hi"},{"x":2.17,"y":22.6,"g":"hi"},{"x":1.78,"y":14.6,"g":"hi"},{"x":1.85,"y":13.6,"g":"hi"},{"x":1.97,"y":12.9,"g":"hi"},{"x":2.11,"y":14.6,"g":"hi"},{"x":1.92,"y":10.5,"g":"hi"},{"x":2.14,"y":8.2,"g":"hi"},{"x":1.86,"y":3.7,"g":"hi"},{"x":2.07,"y":1.5,"g":"hi"},{"x":2.06,"y":25,"g":"hi"},{"x":1.75,"y":19,"g":"hi"}
  ]},
   "mark": {"type": "circle", "size": 22, "opacity": 1},
   "encoding": {
    "x": {"field": "x", "type": "quantitative", "scale": {"domain": [0.4, 2.6], "nice": false, "zero": false}, "axis": {"values": [1, 2], "labelExpr": "datum.value == 1 ? 'lo' : 'hi'", "labelFontSize": 14, "labelFontWeight": "bold", "labelColor": "#000", "title": "RSK1", "titleFontSize": 14, "labelPadding": 1, "titlePadding": 1}},
    "y": {"field": "y", "type": "quantitative", "scale": {"domain": [-16, 127], "nice": false, "zero": false}, "axis": {"values": [0, 20, 40, 60, 80, 100, 120], "labelFontSize": 9, "title": ["P(S380)-RSK antibody", "(HSCORE)"], "titleFontSize": 10.5, "titleLineHeight": 9.5, "titlePadding": 5}},
    "color": {"field": "g", "type": "nominal", "scale": {"domain": ["lo", "hi"], "range": ["#EE1C1C", "#1DB81D"]}, "legend": null}
   }},
  {"data": {"values": [{"x":1,"m":10},{"x":2,"m":21.9}]}, "mark": {"type": "tick", "orient": "horizontal", "color": "#000", "size": 30, "thickness": 2.5}, "encoding": {"x": {"field": "x", "type": "quantitative"}, "y": {"field": "m", "type": "quantitative"}}},
  {"data": {"values": [{"x":1,"y":112,"o":1},{"x":1,"y":115.6,"o":2},{"x":2,"y":115.6,"o":3},{"x":2,"y":112,"o":4}]}, "mark": {"type": "line", "color": "#555", "strokeWidth": 1.2}, "encoding": {"x": {"field": "x", "type": "quantitative"}, "y": {"field": "y", "type": "quantitative"}, "order": {"field": "o", "type": "quantitative"}}},
  {"data": {"values": [{}]}, "mark": {"type": "text", "text": "0.00067", "fontWeight": "bold", "fontSize": 11, "align": "center", "baseline": "middle"}, "encoding": {"x": {"datum": 1.5, "type": "quantitative"}, "y": {"datum": 119.2, "type": "quantitative"}}},
  {"data": {"values": [{"x":1,"t":"(48)"},{"x":2,"t":"(26)"}]}, "mark": {"type": "text", "fontSize": 11, "align": "center", "baseline": "middle", "color": "#333"}, "encoding": {"x": {"field": "x", "type": "quantitative"}, "y": {"datum": -11, "type": "quantitative"}, "text": {"field": "t"}}},
  {"data": {"values": [{"y":145.5,"t":"P(S380)-RSK"},{"y":135.8,"t":"(GBM)"}]}, "mark": {"type": "text", "fontWeight": "bold", "fontSize": 13, "align": "center", "baseline": "middle"}, "encoding": {"x": {"datum": 1.5, "type": "quantitative"}, "y": {"field": "y", "type": "quantitative"}, "text": {"field": "t"}}},
  {"data": {"values": [{}]}, "mark": {"type": "text", "text": "F", "fontWeight": "bold", "fontSize": 15, "align": "center", "baseline": "middle"}, "encoding": {"x": {"datum": -0.39, "type": "quantitative"}, "y": {"datum": 154, "type": "quantitative"}}}
 ]
},
{"width": 56, "height": 1, "data": {"values": []}, "mark": "point"},
{
 "width": 131, "height": 196,
 "view": {"stroke": "#555", "strokeWidth": 1.5},
 "layer": [
  {"data": {"values": [
   {"x":0.84,"y":75.9,"g":"lo"},{"x":1.06,"y":63.6,"g":"lo"},{"x":1.14,"y":55.1,"g":"lo"},{"x":0.89,"y":50.2,"g":"lo"},{"x":1.03,"y":43.4,"g":"lo"},{"x":1.15,"y":33.2,"g":"lo"},{"x":0.92,"y":29.4,"g":"lo"},{"x":0.98,"y":30,"g":"lo"},{"x":1.08,"y":30.5,"g":"lo"},{"x":1.06,"y":26.3,"g":"lo"},{"x":0.91,"y":22.7,"g":"lo"},{"x":0.82,"y":17.8,"g":"lo"},{"x":0.94,"y":17.8,"g":"lo"},{"x":1.03,"y":15.8,"g":"lo"},{"x":1.14,"y":15.4,"g":"lo"},{"x":0.83,"y":15.4,"g":"lo"},{"x":0.94,"y":12.9,"g":"lo"},{"x":1.08,"y":12.9,"g":"lo"},{"x":1.19,"y":14.1,"g":"lo"},{"x":0.85,"y":11,"g":"lo"},{"x":1.0,"y":11.7,"g":"lo"},{"x":1.15,"y":10.5,"g":"lo"},{"x":0.92,"y":8.1,"g":"lo"},{"x":1.06,"y":8.8,"g":"lo"},{"x":0.83,"y":5.6,"g":"lo"},{"x":0.96,"y":4.4,"g":"lo"},{"x":1.08,"y":5.1,"g":"lo"},{"x":1.19,"y":5.6,"g":"lo"},{"x":0.81,"y":1.5,"g":"lo"},{"x":0.92,"y":2,"g":"lo"},{"x":1.03,"y":1.5,"g":"lo"},{"x":1.15,"y":2,"g":"lo"},{"x":1.22,"y":1.2,"g":"lo"},{"x":0.89,"y":19,"g":"lo"},{"x":1.19,"y":20.2,"g":"lo"},{"x":0.86,"y":14.1,"g":"lo"},{"x":1.03,"y":20.2,"g":"lo"},{"x":0.97,"y":25,"g":"lo"},{"x":0.83,"y":9.3,"g":"lo"},{"x":1.11,"y":6.8,"g":"lo"},{"x":0.89,"y":3.7,"g":"lo"},{"x":1.19,"y":9.3,"g":"lo"},{"x":0.78,"y":11.7,"g":"lo"},{"x":1.25,"y":4.4,"g":"lo"},
   {"x":1.96,"y":100.7,"g":"hi"},{"x":1.89,"y":93.9,"g":"hi"},{"x":1.83,"y":61.2,"g":"hi"},{"x":1.81,"y":45.9,"g":"hi"},{"x":2.17,"y":39.8,"g":"hi"},{"x":1.89,"y":34.1,"g":"hi"},{"x":2.08,"y":31.2,"g":"hi"},{"x":1.89,"y":28.6,"g":"hi"},{"x":2.0,"y":25,"g":"hi"},{"x":1.75,"y":25,"g":"hi"},{"x":2.14,"y":22.2,"g":"hi"},{"x":1.81,"y":20.7,"g":"hi"},{"x":1.94,"y":20.2,"g":"hi"},{"x":2.08,"y":18.3,"g":"hi"},{"x":1.78,"y":15.4,"g":"hi"},{"x":1.89,"y":14.6,"g":"hi"},{"x":2.03,"y":15.4,"g":"hi"},{"x":1.86,"y":12.9,"g":"hi"},{"x":2.17,"y":9.8,"g":"hi"},{"x":2.11,"y":6.8,"g":"hi"},{"x":2.03,"y":4.4,"g":"hi"},{"x":1.89,"y":2.7,"g":"hi"},{"x":2.17,"y":2.7,"g":"hi"},{"x":2.19,"y":1.2,"g":"hi"},{"x":1.75,"y":19,"g":"hi"},{"x":1.97,"y":16.6,"g":"hi"},{"x":2.14,"y":14.1,"g":"hi"},{"x":1.83,"y":9.3,"g":"hi"},{"x":2.06,"y":10.5,"g":"hi"}
  ]},
   "mark": {"type": "circle", "size": 22, "opacity": 1},
   "encoding": {
    "x": {"field": "x", "type": "quantitative", "scale": {"domain": [0.4, 2.6], "nice": false, "zero": false}, "axis": {"values": [1, 2], "labelExpr": "datum.value == 1 ? 'lo' : 'hi'", "labelFontSize": 14, "labelFontWeight": "bold", "labelColor": "#000", "title": "RSK2", "titleFontSize": 14, "labelPadding": 1, "titlePadding": 1}},
    "y": {"field": "y", "type": "quantitative", "scale": {"domain": [-16, 127], "nice": false, "zero": false}, "axis": {"values": [0, 20, 40, 60, 80, 100, 120], "labelFontSize": 9, "title": ["P(S380)-RSK antibody", "(HSCORE)"], "titleFontSize": 10.5, "titleLineHeight": 9.5, "titlePadding": 5}},
    "color": {"field": "g", "type": "nominal", "scale": {"domain": ["lo", "hi"], "range": ["#2121DB", "#F7A31C"]}, "legend": null}
   }},
  {"data": {"values": [{"x":1,"m":12.2},{"x":2,"m":19.5}]}, "mark": {"type": "tick", "orient": "horizontal", "color": "#000", "size": 30, "thickness": 2.5}, "encoding": {"x": {"field": "x", "type": "quantitative"}, "y": {"field": "m", "type": "quantitative"}}},
  {"data": {"values": [{"x":1,"y":112,"o":1},{"x":1,"y":115.6,"o":2},{"x":2,"y":115.6,"o":3},{"x":2,"y":112,"o":4}]}, "mark": {"type": "line", "color": "#555", "strokeWidth": 1.2}, "encoding": {"x": {"field": "x", "type": "quantitative"}, "y": {"field": "y", "type": "quantitative"}, "order": {"field": "o", "type": "quantitative"}}},
  {"data": {"values": [{}]}, "mark": {"type": "text", "text": "0.0231", "fontWeight": "bold", "fontSize": 11, "align": "center", "baseline": "middle"}, "encoding": {"x": {"datum": 1.5, "type": "quantitative"}, "y": {"datum": 119.2, "type": "quantitative"}}},
  {"data": {"values": [{"x":1,"t":"(44)"},{"x":2,"t":"(29)"}]}, "mark": {"type": "text", "fontSize": 11, "align": "center", "baseline": "middle", "color": "#333"}, "encoding": {"x": {"field": "x", "type": "quantitative"}, "y": {"datum": -11, "type": "quantitative"}, "text": {"field": "t"}}},
  {"data": {"values": [{"y":145.5,"t":"P(S380)-RSK"},{"y":135.8,"t":"(GBM)"}]}, "mark": {"type": "text", "fontWeight": "bold", "fontSize": 13, "align": "center", "baseline": "middle"}, "encoding": {"x": {"datum": 1.5, "type": "quantitative"}, "y": {"field": "y", "type": "quantitative"}, "text": {"field": "t"}}},
  {"data": {"values": [{}]}, "mark": {"type": "text", "text": "G", "fontWeight": "bold", "fontSize": 15, "align": "center", "baseline": "middle"}, "encoding": {"x": {"datum": -0.22, "type": "quantitative"}, "y": {"datum": 154, "type": "quantitative"}}}
 ]
}
]
}
]
},
{
"resolve": {"scale": {"x": "independent", "y": "independent", "color": "independent", "fill": "independent", "stroke": "independent", "shape": "independent"}, "legend": {"color": "independent", "fill": "independent", "stroke": "independent", "shape": "independent"}, "axis": {"x": "independent", "y": "independent"}},
"bounds": "flush", "spacing": 0, "center": false,
"hconcat": [
{"width": 53, "height": 1, "data": {"values": []}, "mark": "point"},
{
 "width": 248, "height": 193,
 "view": {"stroke": "#555", "strokeWidth": 1.5},
 "layer": [
  {"data": {"values": [
   {"x":49.2,"y":143.3,"p":"lo"},{"x":95.7,"y":142.3,"p":"lo"},{"x":79.5,"y":136.5,"p":"lo"},{"x":105.3,"y":133.1,"p":"hi"},{"x":120.9,"y":135.6,"p":"hi"},{"x":123.2,"y":129.4,"p":"hi"},{"x":124.1,"y":126.4,"p":"hi"},{"x":137.6,"y":124.5,"p":"hi"},{"x":148.8,"y":131.6,"p":"hi"},{"x":63,"y":125.8,"p":"lo"},
   {"x":12.1,"y":116.3,"p":"lo"},{"x":4.1,"y":114.1,"p":"hi"},{"x":48.8,"y":110.1,"p":"lo"},{"x":51.5,"y":109.5,"p":"hi"},{"x":52.2,"y":102.8,"p":"lo"},{"x":55,"y":99.7,"p":"lo"},{"x":47.6,"y":98.8,"p":"lo"},{"x":39.6,"y":97.6,"p":"hi"},{"x":16.7,"y":97.9,"p":"lo"},{"x":5.7,"y":91.7,"p":"lo"},
   {"x":6.4,"y":87.7,"p":"lo"},{"x":16.7,"y":90.8,"p":"lo"},{"x":20,"y":82.8,"p":"lo"},{"x":10.8,"y":65.6,"p":"lo"},{"x":26.8,"y":36.8,"p":"lo"},{"x":42.8,"y":39.9,"p":"hi"},{"x":49.9,"y":45.1,"p":"lo"},{"x":49.7,"y":35.6,"p":"lo"},{"x":72.6,"y":39.9,"p":"lo"},{"x":62.3,"y":94.2,"p":"hi"},
   {"x":67.6,"y":90.2,"p":"lo"},{"x":64.6,"y":78.8,"p":"lo"},{"x":71,"y":80.4,"p":"hi"},{"x":71.4,"y":83.1,"p":"hi"},{"x":76.7,"y":84,"p":"lo"},{"x":76,"y":101.8,"p":"lo"},{"x":61.4,"y":75.2,"p":"hi"},{"x":56.1,"y":70.6,"p":"lo"},{"x":64.8,"y":64.4,"p":"lo"},{"x":73.3,"y":62.9,"p":"lo"},
   {"x":76,"y":73.3,"p":"lo"},{"x":77.2,"y":74.8,"p":"lo"},{"x":79,"y":74.2,"p":"lo"},{"x":80.1,"y":69,"p":"hi"},{"x":78.5,"y":53.7,"p":"lo"},{"x":85.2,"y":70.9,"p":"lo"},{"x":83.1,"y":89.6,"p":"hi"},{"x":82.9,"y":81,"p":"lo"},{"x":85.9,"y":92.6,"p":"lo"},{"x":87.2,"y":92,"p":"hi"},
   {"x":89.3,"y":85.6,"p":"lo"},{"x":86.6,"y":85.9,"p":"lo"},{"x":89.3,"y":105.8,"p":"hi"},{"x":89.3,"y":122.4,"p":"lo"},{"x":95.7,"y":115.6,"p":"hi"},{"x":95,"y":111.7,"p":"hi"},{"x":94,"y":108.9,"p":"hi"},{"x":92.3,"y":99.7,"p":"lo"},{"x":99.6,"y":102.8,"p":"hi"},{"x":104.2,"y":92.6,"p":"hi"},
   {"x":113.4,"y":110.4,"p":"lo"},{"x":118.4,"y":97.9,"p":"lo"},{"x":116.8,"y":81.3,"p":"lo"},{"x":115.2,"y":75.2,"p":"hi"},{"x":131.7,"y":94.2,"p":"lo"},{"x":141.3,"y":104.9,"p":"hi"},{"x":96.2,"y":50.3,"p":"lo"},{"x":110.6,"y":30.4,"p":"lo"},{"x":130,"y":29.8,"p":"lo"},{"x":161,"y":46.6,"p":"lo"},{"x":103,"y":91.7,"p":"hi"}
  ]},
   "mark": {"type": "point", "filled": true, "size": 45, "stroke": "#111", "strokeWidth": 1.3},
   "encoding": {
    "x": {"field": "x", "type": "quantitative", "scale": {"domain": [-1.4, 169.3], "nice": false, "zero": false}, "axis": {"values": [0, 50, 100, 150], "labelFontSize": 9, "title": ["RSK1 protein", "(HSCORE)"]}},
    "y": {"field": "y", "type": "quantitative", "scale": {"domain": [-6.4, 170], "nice": false, "zero": false}, "axis": {"values": [0, 50, 100, 150], "labelFontSize": 9, "title": ["RSK2 protein", "(HSCORE)"], "titleFontSize": 14, "titleLineHeight": 13, "titlePadding": 4}},
    "fill": {"field": "p", "type": "nominal", "scale": {"domain": ["hi", "lo"], "range": ["#8E2EC9", "#FFFFFF"]}, "legend": {"title": ["P(S380)-", "RSK"], "titleLineHeight": 13, "legendX": 252, "legendY": 70, "symbolSize": 30, "symbolStrokeColor": "#333", "symbolStrokeWidth": 1}}
   }},
  {"data": {"values": [{}]}, "mark": {"type": "rule", "color": "#333", "strokeWidth": 1.3, "strokeDash": [3, 3]}, "encoding": {"x": {"datum": 89.3, "type": "quantitative"}}},
  {"data": {"values": [{}]}, "mark": {"type": "rule", "color": "#333", "strokeWidth": 1.3, "strokeDash": [3, 3]}, "encoding": {"y": {"datum": 97.5, "type": "quantitative"}}},
  {"data": {"values": [{"x":-0.2,"y":162,"t":"2/13"},{"x":1.2,"y":-1.8,"t":"9/33"}]}, "mark": {"type": "text", "fontSize": 14, "align": "left", "baseline": "middle"}, "encoding": {"x": {"field": "x", "type": "quantitative"}, "y": {"field": "y", "type": "quantitative"}, "text": {"field": "t"}}},
  {"data": {"values": [{"x":168,"y":162,"t":"12/15"},{"x":167.5,"y":-1.8,"t":"3/10"}]}, "mark": {"type": "text", "fontSize": 14, "align": "right", "baseline": "middle"}, "encoding": {"x": {"field": "x", "type": "quantitative"}, "y": {"field": "y", "type": "quantitative"}, "text": {"field": "t"}}},
  {"data": {"values": [{}]}, "mark": {"type": "text", "text": "P(Chi-square) =  0.0011", "fontWeight": "bold", "fontSize": 10.5, "align": "left", "baseline": "middle"}, "encoding": {"x": {"datum": 0.7, "type": "quantitative"}, "y": {"datum": 11.9, "type": "quantitative"}}},
  {"data": {"values": [{"y":198.3,"t":"RSK1 vs RSK2 protein expression"},{"y":183.7,"t":"(GBM)"}]}, "mark": {"type": "text", "fontWeight": "bold", "fontSize": 15.5, "align": "center", "baseline": "middle"}, "encoding": {"x": {"datum": 84, "type": "quantitative"}, "y": {"field": "y", "type": "quantitative"}, "text": {"field": "t"}}},
  {"data": {"values": [{}]}, "mark": {"type": "text", "text": "H", "fontWeight": "bold", "fontSize": 15, "align": "center", "baseline": "middle"}, "encoding": {"x": {"datum": -29.6, "type": "quantitative"}, "y": {"datum": 198.3, "type": "quantitative"}}}
 ]
},
{"width": 124, "height": 1, "data": {"values": []}, "mark": "point"},
{
 "width": 268, "height": 201,
 "view": {"stroke": "#555", "strokeWidth": 1.5},
 "layer": [
  {"data": {"values": [
   {"x":1.04,"y":63.1,"g":"a"},{"x":0.99,"y":49.6,"g":"a"},{"x":1.07,"y":43.2,"g":"a"},{"x":1.16,"y":32.6,"g":"a"},{"x":0.79,"y":29.1,"g":"a"},{"x":1.05,"y":26,"g":"a"},{"x":0.99,"y":25.3,"g":"a"},{"x":0.79,"y":22.5,"g":"a"},{"x":0.89,"y":18.2,"g":"a"},{"x":1.15,"y":17.7,"g":"a"},{"x":1.17,"y":15.9,"g":"a"},{"x":1.04,"y":16.6,"g":"a"},{"x":0.86,"y":11,"g":"a"},{"x":0.96,"y":11.5,"g":"a"},{"x":1.09,"y":11.5,"g":"a"},{"x":0.78,"y":9.9,"g":"a"},{"x":0.89,"y":6.4,"g":"a"},{"x":0.99,"y":5.9,"g":"a"},{"x":1.15,"y":5.9,"g":"a"},{"x":0.83,"y":4,"g":"a"},{"x":0.93,"y":2.8,"g":"a"},{"x":1.04,"y":2.8,"g":"a"},{"x":1.17,"y":1.9,"g":"a"},{"x":0.89,"y":1.2,"g":"a"},{"x":1.02,"y":0.7,"g":"a"},{"x":0.77,"y":1.2,"g":"a"},{"x":1.15,"y":0.5,"g":"a"},{"x":0.73,"y":4.2,"g":"a"},{"x":1.2,"y":9.9,"g":"a"},{"x":0.94,"y":16.6,"g":"a"},{"x":1.09,"y":21.3,"g":"a"},{"x":0.81,"y":13.4,"g":"a"},{"x":1.22,"y":4.7,"g":"a"},
   {"x":1.79,"y":75,"g":"b"},{"x":1.89,"y":28.3,"g":"b"},{"x":2.04,"y":30,"g":"b"},{"x":1.82,"y":12.9,"g":"b"},{"x":1.95,"y":12.9,"g":"b"},{"x":2.1,"y":7.1,"g":"b"},{"x":1.83,"y":1.6,"g":"b"},{"x":2.05,"y":3.5,"g":"b"},{"x":1.87,"y":8,"g":"b"},{"x":1.97,"y":11.6,"g":"b"},
   {"x":2.94,"y":22.9,"g":"c"},{"x":3.15,"y":24.8,"g":"c"},{"x":3.02,"y":17.7,"g":"c"},{"x":3.17,"y":16.8,"g":"c"},{"x":2.87,"y":15.9,"g":"c"},{"x":2.96,"y":14.3,"g":"c"},{"x":2.83,"y":11,"g":"c"},{"x":3.04,"y":9.8,"g":"c"},{"x":3.12,"y":8.7,"g":"c"},{"x":2.94,"y":6.4,"g":"c"},{"x":2.99,"y":4.4,"g":"c"},{"x":3.09,"y":3.3,"g":"c"},{"x":2.92,"y":9.9,"g":"c"},
   {"x":3.86,"y":99.3,"g":"d"},{"x":4.05,"y":92.6,"g":"d"},{"x":3.85,"y":60.7,"g":"d"},{"x":3.95,"y":44.9,"g":"d"},{"x":3.82,"y":30.7,"g":"d"},{"x":4.13,"y":33.5,"g":"d"},{"x":4.05,"y":29.1,"g":"d"},{"x":3.92,"y":26,"g":"d"},{"x":3.95,"y":20.3,"g":"d"},{"x":4.19,"y":19.6,"g":"d"},{"x":3.8,"y":16.6,"g":"d"},{"x":4.13,"y":14.7,"g":"d"},{"x":3.94,"y":9.8,"g":"d"},{"x":4.06,"y":23.6,"g":"d"},{"x":3.85,"y":21.3,"g":"d"}
  ]},
   "mark": {"type": "circle", "size": 40, "opacity": 1},
   "encoding": {
    "x": {"field": "x", "type": "quantitative", "scale": {"domain": [0.4, 4.6], "nice": false, "zero": false}, "axis": {"values": [1, 2, 3, 4], "labelExpr": "datum.value == 1 ? ['lo','lo'] : datum.value == 2 ? ['hi','lo'] : datum.value == 3 ? ['lo','hi'] : ['hi','hi']", "labelFontSize": 14, "labelFontWeight": "bold", "labelColor": "#000", "labelLineHeight": 15, "labelPadding": 1, "title": null}},
    "y": {"field": "y", "type": "quantitative", "scale": {"domain": [-16, 126], "nice": false, "zero": false}, "axis": {"values": [0, 20, 40, 60, 80, 100, 120], "labelFontSize": 12, "title": ["P(S380)-RSK antibody", "(HSCORE)"], "titleFontSize": 15, "titleLineHeight": 19, "titlePadding": 2}},
    "color": {"field": "g", "type": "nominal", "scale": {"domain": ["a", "b", "c", "d"], "range": ["#8C8C8C", "#1DB81D", "#F7A31C", "#A52A2A"]}, "legend": null}
   }},
  {"data": {"values": [{"x":1,"m":7.6},{"x":2,"m":12.5},{"x":3,"m":10.6},{"x":4,"m":24.3}]}, "mark": {"type": "tick", "orient": "horizontal", "color": "#000", "size": 32, "thickness": 3}, "encoding": {"x": {"field": "x", "type": "quantitative"}, "y": {"field": "m", "type": "quantitative"}}},
  {"data": {"values": [{"b":1,"x":1,"y":113.5,"o":1},{"b":1,"x":1,"y":118,"o":2},{"b":1,"x":4,"y":118,"o":3},{"b":1,"x":4,"y":113.5,"o":4},{"b":2,"x":3,"y":103,"o":1},{"b":2,"x":3,"y":108,"o":2},{"b":2,"x":4,"y":108,"o":3},{"b":2,"x":4,"y":103,"o":4}]}, "mark": {"type": "line", "color": "#555", "strokeWidth": 1.2}, "encoding": {"x": {"field": "x", "type": "quantitative"}, "y": {"field": "y", "type": "quantitative"}, "detail": {"field": "b"}, "order": {"field": "o", "type": "quantitative"}}},
  {"data": {"values": [{"x":2.5,"y":121.4,"t":"0.0008"},{"x":3.5,"y":111.6,"t":"0.0094"}]}, "mark": {"type": "text", "fontWeight": "bold", "fontSize": 11.5, "align": "center", "baseline": "middle"}, "encoding": {"x": {"field": "x", "type": "quantitative"}, "y": {"field": "y", "type": "quantitative"}, "text": {"field": "t"}}},
  {"data": {"values": [{"x":1,"t":"(33)"},{"x":2,"t":"(10)"},{"x":3,"t":"(13)"},{"x":4,"t":"(15)"}]}, "mark": {"type": "text", "fontSize": 11.5, "align": "center", "baseline": "middle", "color": "#333"}, "encoding": {"x": {"field": "x", "type": "quantitative"}, "y": {"datum": -11.3, "type": "quantitative"}, "text": {"field": "t"}}},
  {"data": {"values": [{"y":-23.4,"t":"RSK1"},{"y":-34,"t":"RSK2"}]}, "mark": {"type": "text", "fontWeight": "bold", "fontSize": 12, "align": "center", "baseline": "middle"}, "encoding": {"x": {"datum": -0.01, "type": "quantitative"}, "y": {"field": "y", "type": "quantitative"}, "text": {"field": "t"}}},
  {"data": {"values": [{"y":149.8,"t":"RSK phosphorylation (S380)"},{"y":136.8,"t":"(GBM)"}]}, "mark": {"type": "text", "fontWeight": "bold", "fontSize": 17, "align": "center", "baseline": "middle"}, "encoding": {"x": {"datum": 2.5, "type": "quantitative"}, "y": {"field": "y", "type": "quantitative"}, "text": {"field": "t"}}},
  {"data": {"values": [{}]}, "mark": {"type": "text", "text": "I", "fontWeight": "bold", "fontSize": 15, "align": "center", "baseline": "middle"}, "encoding": {"x": {"datum": -0.415, "type": "quantitative"}, "y": {"datum": 150.1, "type": "quantitative"}}}
 ]
}
]
}
]
}
